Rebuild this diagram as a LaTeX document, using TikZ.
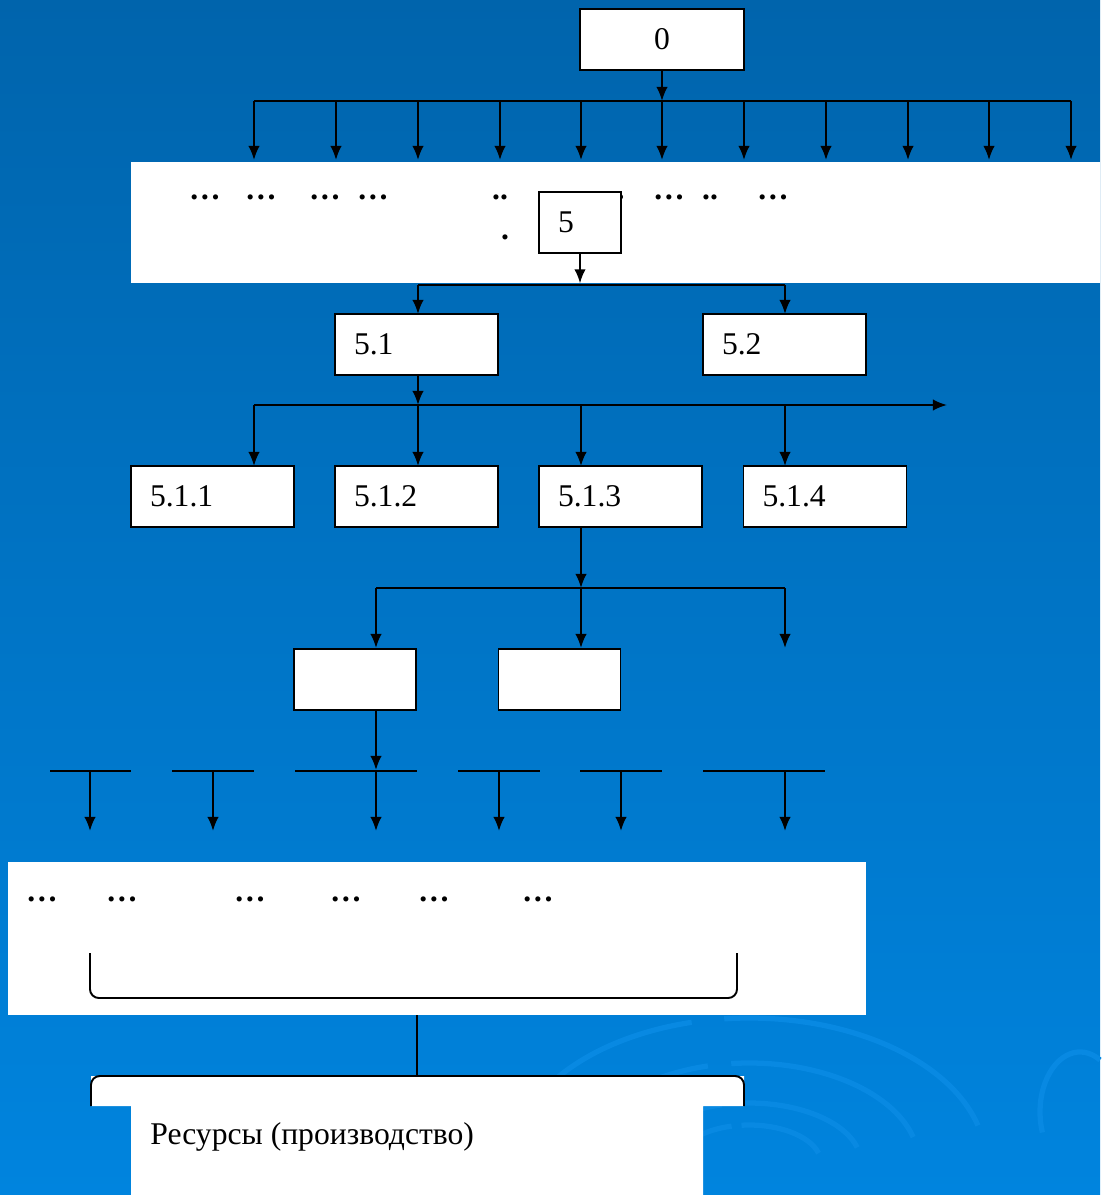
\documentclass[tikz,border=0pt]{standalone}
\usepackage{fontspec}
\setmainfont{Liberation Serif}
\usetikzlibrary{arrows.meta,positioning,calc}
\definecolor{SlideTop}{HTML}{0064AC}
\definecolor{SlideBottom}{HTML}{0084DE}
\definecolor{SlideRing}{HTML}{0889E2}

\begin{document}
\begin{tikzpicture}[
  x=0.02cm,y=-0.02cm,
  every node/.style={font=\fontsize{18}{21}\selectfont},
  link/.style={line width=1.1pt},
  feed/.style={-{Latex[length=8pt,width=6.5pt]},line width=1.1pt},
  rootbox/.style={draw,line width=1.1pt,fill=white,minimum width=3.28cm,
    minimum height=1.22cm},
  idbox/.style={draw,line width=1.1pt,fill=white,minimum height=1.22cm,
    text width=2.5cm,inner xsep=0.38cm,align=left},
  blank/.style={draw,line width=1.1pt,fill=white,minimum width=2.44cm,
    minimum height=1.22cm,inner sep=0pt},
  band/.style={fill=white,inner sep=0pt},
  gap/.style={font=\fontsize{18}{21}\selectfont\bfseries,inner sep=0pt},
  ring/.style={SlideRing,line width=3pt}
]
% background
\shade[top color=SlideTop,bottom color=SlideBottom] (0,0) rectangle (1100,1195);
\foreach \a/\b in {237/145,170/100,112/60,72/38}{
  \draw[ring] ({749+\a*cos(200)},{1163+\b*sin(200)})
    arc[start angle=200,end angle=256,x radius=\a,y radius=\b];
  \draw[ring] ({749+\a*cos(264)},{1163+\b*sin(264)})
    arc[start angle=264,end angle=345,x radius=\a,y radius=\b];
}
\draw[ring] (1100,1060) arc[start angle=-60,end angle=-200,x radius=40,y radius=60];

% level 0
\node[rootbox] (root) at (662,39.5) {0};
\coordinate (hubA) at (662,101);
\draw[feed] (root) -- (hubA);
\draw[link] (254,101) -- (1071,101);
\foreach \x in {254,336,418,500,581,662,744,826,908,989,1071}
  \draw[feed] (\x,101) -- (\x,160);

% level 1 band
\node[band,minimum width=19.38cm,minimum height=2.42cm] (tier) at (615.5,222.5) {};
\foreach \x [count=\i] in {205,261,325,373,610,669,773}
  \node[gap] (dotsA\i) at (\x,197) {…};
\node[gap] (pairA) at (500,197) {..};
\node[gap] (pairB) at (710,197) {..};
\node[gap] (single) at (505,237) {.};
\node[idbox,text width=0.88cm] (unit) at (580,222.5) {5};
\draw[feed] (unit) -- (unit |- tier.south);

% level 2
\node[idbox] (n51) at (416.5,344.5) {5.1};
\node[idbox] (n52) at (784.5,344.5) {5.2};
\draw[link] (418,285) -- (785,285);
\draw[feed] (418,285) -- (418,314);
\draw[feed] (785,285) -- (785,314);

% level 3
\coordinate (hubB) at (418,405);
\draw[feed] (n51.south -| hubB) -- (hubB);
\draw[feed] (254,405) -- (947,405);
\node[idbox] (n511) at (212.5,496.5) {5.1.1};
\node[idbox] (n512) at (416.5,496.5) {5.1.2};
\node[idbox] (n513) at (620.5,496.5) {5.1.3};
\node[idbox] (n514) at (825,496.5) {5.1.4};
\foreach \x in {254,418,581,785}
  \draw[feed] (\x,405) -- (\x,466);

% level 4
\draw[feed] (581,527) -- (581,588);
\draw[link] (376,588) -- (785,588);
\foreach \x in {376,581,785}
  \draw[feed] (\x,588) -- (\x,648);
\node[blank] (leafA) at (355,679.5) {};
\node[blank] (leafB) at (559.5,679.5) {};
\draw[feed] (376,710) -- (376,770);

% level 5
\foreach \a/\b/\m in {50/131/90,172/254/213,295/417/376,458/540/499,580/662/621,703/825/785}{
  \draw[link] (\a,771) -- (\b,771);
  \draw[feed] (\m,771) -- (\m,831);
}
\node[band,minimum width=17.16cm,minimum height=3.06cm] (pool) at (437,938.5) {};
\foreach \x [count=\i] in {42,122,250,346,434,538}
  \node[gap] (dotsB\i) at (\x,899) {…};
\draw[link,rounded corners=5pt] (90,953) -- (90,998) -- (737,998) -- (737,953);

% resources
\coordinate (drop) at (417,1015);
\coordinate (cap) at (417,1076);
\draw[link] (drop) -- (cap);
\fill[white] (91,1106) -- (91,1076) -- (744,1076) -- (744,1106) -- (703,1106)
  -- (703,1195) -- (131,1195) -- (131,1106) -- cycle;
\draw[link,rounded corners=5pt] (91,1106) -- (91,1076) -- (744,1076) -- (744,1106);
\node[anchor=west,inner sep=0pt] (resources) at (150,1137) {Ресурсы (производство)};
\end{tikzpicture}
\end{document}
